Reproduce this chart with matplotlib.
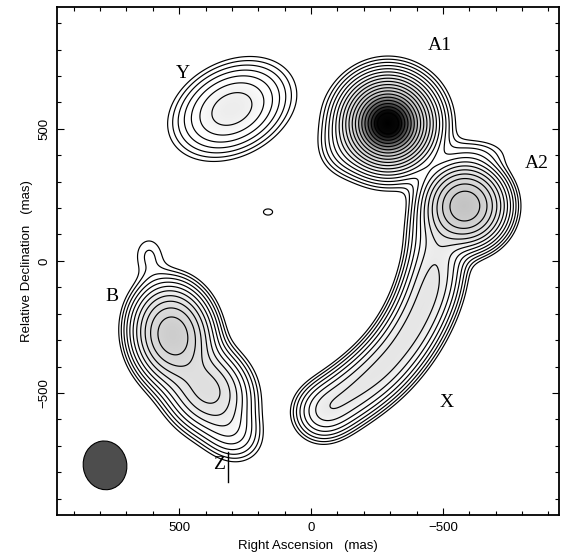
import numpy as np
import matplotlib
matplotlib.use("Agg")
import matplotlib.pyplot as plt
from matplotlib.colors import LogNorm, LinearSegmentedColormap
from matplotlib.patches import Ellipse

# emission components (RA offset mas, Dec offset mas, peak, sigma along pa, sigma across, pa on screen deg, profile power)
comp_names = ["A1", "A2", "Y", "B", "B2", "Btail", "Bknob", "blob", "A1halo", "A2halo"]
comp_ra = [-292, -584, 300, 525, 390, 300, 615, 163, -120, -630]
comp_dec = [520, 208, 575, -280, -490, -650, 25, 185, 420, 410]
comp_amp = [1600, 60, 10, 42, 18, 4, 1.4, 1.3, 1.6, 1.3]
comp_sa = [17.3, 74, 120, 92, 90, 70, 60, 24, 60, 90]
comp_sb = [17.3, 74, 84, 74, 78, 60, 48, 16, 60, 40]
comp_pa = [0, 0, 27, 100, -50, -40, 90, 0, 0, 0]
comp_pow = [1, 2, 2, 2, 2, 2, 2, 2, 2, 2]

# knots along the curved jet towards X
jet_ra = [-468, -476, -470, -452, -424, -388, -344, -292, -234, -170, -104, -40]
jet_dec = [120, 45, -30, -105, -180, -252, -320, -384, -440, -490, -535, -575]
jet_amp = [3.0, 4.5, 6.0, 7.2, 7.2, 7.2, 7.2, 7.2, 7.0, 6.7, 6.0, 6.5]
jet_sigma = 60

# contour levels: lowest * sqrt(2)^k
lowest = 1.0
n_levels = 19

# grey-scale transfer: flux -> grey (1 = white)
grey_flux = [5, 12, 30, 60, 100, 200, 450, 1600]
grey_val = [1.0, 0.91, 0.84, 0.77, 0.55, 0.3, 0.03, 0.0]

# restoring beam
beam_ra, beam_dec, beam_w, beam_h, beam_pa = 781, -774, 165, 185, -10

# source labels
lab_text = ["Y", "A1", "A2", "B", "X", "Z"]
lab_ra = [485, -489, -857, 755, -516, 350]
lab_dec = [710, 817, 370, -136, -537, -772]

xlim = (962, -940)
ylim = (-962, 962)

ra = np.linspace(xlim[0], xlim[1], 480)
dec = np.linspace(ylim[0], ylim[1], 480)
RA, DEC = np.meshgrid(ra, dec)
flux = np.zeros_like(RA)

for r0, d0, a, sa, sb, pa, p in zip(comp_ra, comp_dec, comp_amp, comp_sa, comp_sb, comp_pa, comp_pow):
    dx = -(RA - r0)  # screen x grows to the west
    dy = DEC - d0
    t = np.radians(pa)
    u = np.cos(t) * dx + np.sin(t) * dy
    v = -np.sin(t) * dx + np.cos(t) * dy
    q = np.sqrt((u / sa) ** 2 + (v / sb) ** 2)
    flux += a * np.exp(-0.5 * q ** p)

for r0, d0, a in zip(jet_ra, jet_dec, jet_amp):
    flux += a * np.exp(-((RA - r0) ** 2 + (DEC - d0) ** 2) / (2 * jet_sigma ** 2))

levels = lowest * 2 ** (np.arange(n_levels) / 2)

lo, hi = np.log(grey_flux[0]), np.log(grey_flux[-1])
nodes = [(np.log(f) - lo) / (hi - lo) for f in grey_flux]
cmap = LinearSegmentedColormap.from_list("grey", [(n, (g, g, g)) for n, g in zip(nodes, grey_val)])
cmap.set_under("white")

fig = plt.figure(figsize=(5.61, 5.56), dpi=100)
ax = fig.add_axes([0.1021, 0.0737, 0.8943, 0.9142])

ax.imshow(flux, extent=[xlim[0], xlim[1], ylim[0], ylim[1]], origin="lower",
          cmap=cmap, norm=LogNorm(vmin=grey_flux[0], vmax=grey_flux[-1]), aspect="auto",
          interpolation="bilinear")
ax.contour(RA, DEC, flux, levels=levels, colors="k", linewidths=0.85)

ax.add_patch(Ellipse((beam_ra, beam_dec), beam_w, beam_h, angle=beam_pa,
                     facecolor="#4d4d4d", edgecolor="k", lw=0.8))

for txt, x, y in zip(lab_text, lab_ra, lab_dec):
    ax.text(x, y, txt, fontsize=14, family="Liberation Serif", ha="center", va="center")
ax.plot([315, 315], [-725, -838], color="k", lw=1.0)

ax.set_xlim(*xlim)
ax.set_ylim(*ylim)
ax.set_xticks([500, 0, -500])
ax.set_yticks([-500, 0, 500])
ax.set_xticks(np.arange(-900, 901, 100), minor=True)
ax.set_yticks(np.arange(-900, 901, 100), minor=True)
ax.tick_params(which="both", direction="in", top=True, right=True, width=0.8)
ax.tick_params(which="major", length=5, labelsize=9.5, pad=5)
ax.tick_params(which="minor", length=3)
for lab in ax.get_yticklabels():
    lab.set_rotation(90)
    lab.set_va("center")
for lab in ax.get_xticklabels() + ax.get_yticklabels():
    lab.set_family("Liberation Sans")
for s in ax.spines.values():
    s.set_linewidth(1.3)

ax.set_xlabel("Right Ascension   (mas)", fontsize=9.5, family="Liberation Sans", labelpad=4)
ax.set_ylabel("Relative Declination   (mas)", fontsize=9.5, family="Liberation Sans", labelpad=4)

fig.savefig("out.png", dpi=100)
